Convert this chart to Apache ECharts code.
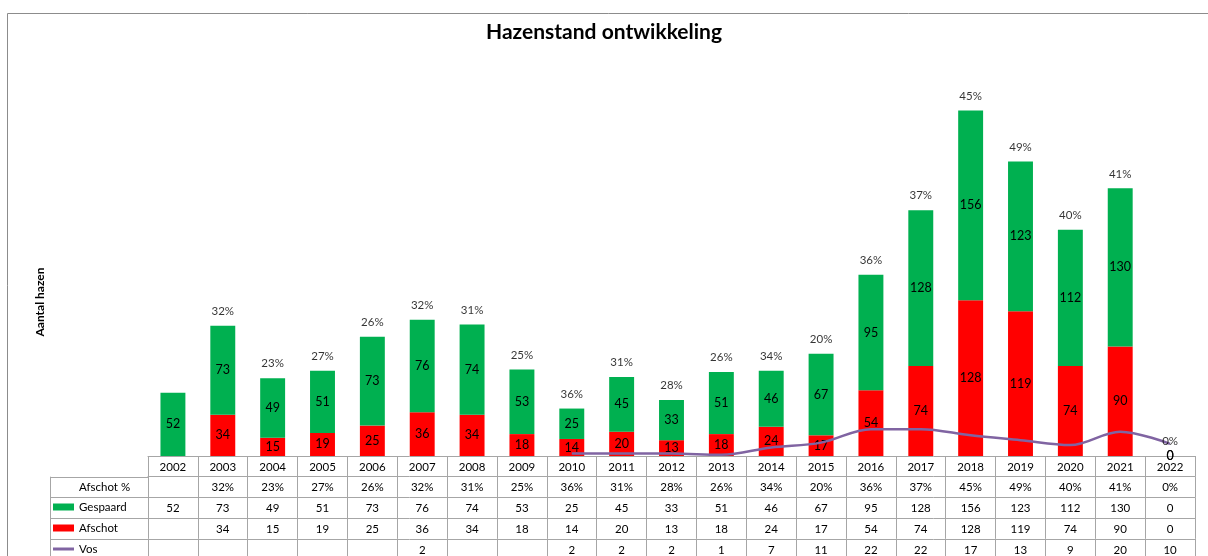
<!DOCTYPE html>
<html>
<head>
<meta charset="utf-8">
<script src="https://cdn.jsdelivr.net/npm/echarts@6/dist/echarts.min.js"></script>
<style>
html,body{margin:0;padding:0;background:#fff;}
#chart{width:1208px;height:556px;}
</style>
</head>
<body>
<div id="chart"></div>
<script>
const years = ['2002','2003','2004','2005','2006','2007','2008','2009','2010','2011','2012','2013','2014','2015','2016','2017','2018','2019','2020','2021','2022'];
const afschotPct = ['','32%','23%','27%','26%','32%','31%','25%','36%','31%','28%','26%','34%','20%','36%','37%','45%','49%','40%','41%','0%'];
const gespaard = [52,73,49,51,73,76,74,53,25,45,33,51,46,67,95,128,156,123,112,130,0];
const afschot = [null,34,15,19,25,36,34,18,14,20,13,18,24,17,54,74,128,119,74,90,0];
const vos = [null,null,null,null,null,2,null,null,2,2,2,1,7,11,22,22,17,13,9,20,10];

const FONT = 'Lato, "Liberation Sans", sans-serif';
const GRID_LEFT = 148, GRID_BOTTOM_Y = 456, ROW_H = 20.7;
const LINE_COLOR = '#A6A6A6';

const fmt = v => (v === null || v === undefined) ? '' : String(v);
const tableRows = [years, afschotPct, gespaard.map(fmt), afschot.map(fmt), vos.map(fmt)];

const totals = years.map((y, i) => afschotPct[i] ? (gespaard[i] || 0) + (afschot[i] || 0) : '-');

const xAxes = tableRows.map((row, k) => ({
  type: 'category',
  data: years,
  gridIndex: 0,
  position: 'bottom',
  offset: k * ROW_H,
  boundaryGap: true,
  axisLine: { show: true, lineStyle: { color: LINE_COLOR, width: 1 } },
  axisTick: { show: true, interval: 0, length: ROW_H, lineStyle: { color: LINE_COLOR, width: 1 } },
  axisLabel: {
    interval: 0, margin: 5, fontSize: 11.5, color: '#000', fontFamily: FONT,
    formatter: (v, i) => row[i]
  },
  splitLine: { show: false }
}));

const legendText = { fontFamily: FONT, fontSize: 11.5, color: '#000' };

const chart = echarts.init(document.getElementById('chart'), null, { renderer: 'canvas' });
const option = {
  animation: false,
  backgroundColor: '#fff',
  title: {
    text: 'Hazenstand ontwikkeling',
    left: 'center',
    top: 17,
    textStyle: { fontFamily: FONT, fontSize: 21, fontWeight: 'bold', color: '#000' }
  },
  grid: { left: GRID_LEFT, right: 13, top: 91, bottom: 556 - GRID_BOTTOM_Y, containLabel: false, outerBoundsMode: 'none' },
  legend: [
    { data: [{ name: 'Gespaard', icon: 'rect' }], left: 53, top: 501, orient: 'vertical', itemWidth: 21, itemHeight: 7, itemGap: 0, padding: 0, selectedMode: false, textStyle: legendText },
    { data: [{ name: 'Afschot', icon: 'rect' }], left: 53, top: 522, orient: 'vertical', itemWidth: 21, itemHeight: 7, itemGap: 0, padding: 0, selectedMode: false, textStyle: legendText },
    { data: [{ name: 'Vos', icon: 'rect' }], left: 53, top: 543, orient: 'vertical', itemWidth: 21, itemHeight: 3, itemGap: 0, padding: 0, selectedMode: false, textStyle: legendText }
  ],
  xAxis: xAxes,
  yAxis: {
    type: 'value', min: 0, max: 300,
    axisLine: { show: false }, axisTick: { show: false }, axisLabel: { show: false },
    splitLine: { show: false }
  },
  series: [
    {
      name: 'Afschot', type: 'bar', stack: 'hazen', data: afschot, barWidth: '50%',
      itemStyle: { color: '#FF0000' },
      label: { show: true, position: 'inside', fontFamily: FONT, fontSize: 12.5, color: '#000' }
    },
    {
      name: 'Gespaard', type: 'bar', stack: 'hazen', data: gespaard, barWidth: '50%',
      itemStyle: { color: '#00B050' },
      label: { show: true, position: 'inside', fontFamily: FONT, fontSize: 12.5, color: '#000' }
    },
    {
      name: 'Vos', type: 'line', data: vos, smooth: 0.35, showSymbol: false, symbol: 'none',
      connectNulls: false,
      itemStyle: { color: '#8064A2' },
      lineStyle: { color: '#8064A2', width: 2.5 },
      z: 5
    },
    {
      name: 'Afschot %', type: 'scatter', data: totals, symbolSize: 1,
      itemStyle: { color: 'rgba(0,0,0,0)' },
      label: {
        show: true, position: 'top', distance: 8, fontFamily: FONT, fontSize: 11.5, color: '#000',
        formatter: p => afschotPct[p.dataIndex]
      },
      z: 6
    }
  ],
  graphic: [
    { type: 'rect', shape: { x: 7.5, y: 13.5, width: 1240, height: 600 }, style: { fill: null, stroke: '#8C8C8C', lineWidth: 1 }, silent: true },
    { type: 'text', x: 40, y: 302, rotation: Math.PI / 2, style: { text: 'Aantal hazen', font: 'bold 12px ' + FONT, fill: '#000', textAlign: 'center', textVerticalAlign: 'middle' }, silent: true },
    { type: 'line', shape: { x1: 50.5, y1: GRID_BOTTOM_Y + ROW_H, x2: 50.5, y2: 560 }, style: { stroke: LINE_COLOR, lineWidth: 1 }, silent: true },
    { type: 'line', shape: { x1: 50, y1: Math.round(GRID_BOTTOM_Y + ROW_H) + 0.5, x2: GRID_LEFT, y2: Math.round(GRID_BOTTOM_Y + ROW_H) + 0.5 }, style: { stroke: LINE_COLOR, lineWidth: 1 }, silent: true },
    { type: 'line', shape: { x1: 50, y1: Math.round(GRID_BOTTOM_Y + 2 * ROW_H) + 0.5, x2: GRID_LEFT, y2: Math.round(GRID_BOTTOM_Y + 2 * ROW_H) + 0.5 }, style: { stroke: LINE_COLOR, lineWidth: 1 }, silent: true },
    { type: 'line', shape: { x1: 50, y1: Math.round(GRID_BOTTOM_Y + 3 * ROW_H) + 0.5, x2: GRID_LEFT, y2: Math.round(GRID_BOTTOM_Y + 3 * ROW_H) + 0.5 }, style: { stroke: LINE_COLOR, lineWidth: 1 }, silent: true },
    { type: 'line', shape: { x1: 50, y1: Math.round(GRID_BOTTOM_Y + 4 * ROW_H) + 0.5, x2: GRID_LEFT, y2: Math.round(GRID_BOTTOM_Y + 4 * ROW_H) + 0.5 }, style: { stroke: LINE_COLOR, lineWidth: 1 }, silent: true },
    { type: 'text', x: 79, y: GRID_BOTTOM_Y + 1.5 * ROW_H, style: { text: 'Afschot %', font: '11.5px ' + FONT, fill: '#000', textAlign: 'left', textVerticalAlign: 'middle' }, silent: true }
  ]
};
chart.setOption(option);
</script>
</body>
</html>
